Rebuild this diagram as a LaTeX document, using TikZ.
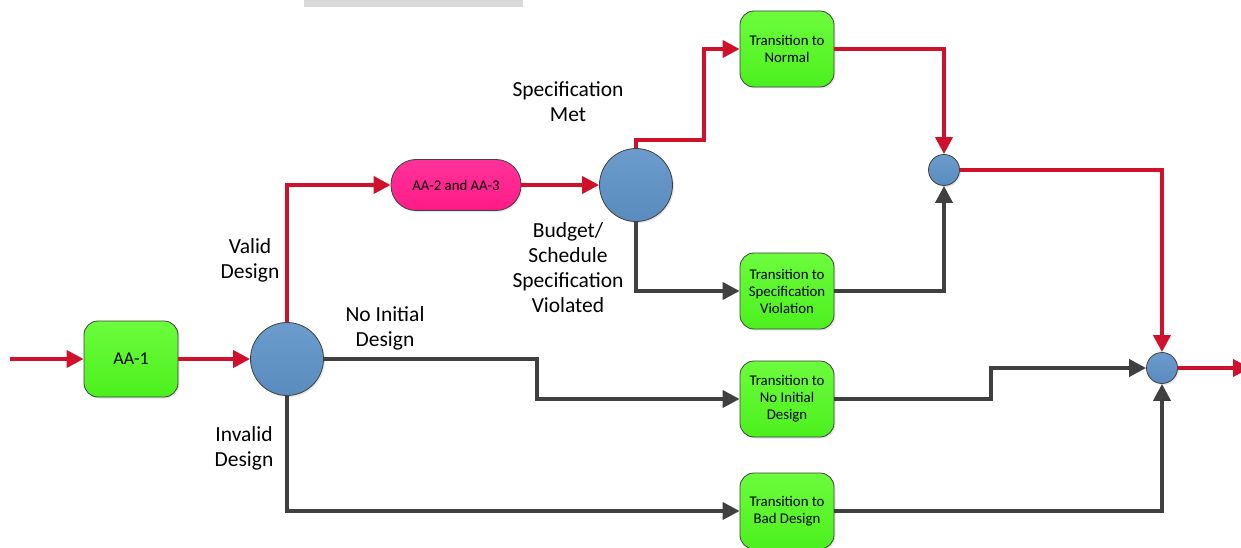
\documentclass[tikz,border=0pt]{standalone}
\usepackage{fontspec}
\setmainfont{Carlito}
\usetikzlibrary{arrows.meta,shadows}
\definecolor{boxgreen1}{HTML}{6CFC3C}
\definecolor{boxgreen2}{HTML}{4CF01E}
\definecolor{circblue1}{HTML}{6B9CCD}
\definecolor{circblue2}{HTML}{5A8BBE}
\definecolor{pink1}{HTML}{FF3399}
\definecolor{pink2}{HTML}{FF1A88}
\definecolor{edgegray}{HTML}{404040}
\definecolor{flowred}{HTML}{D0112B}
\definecolor{bargray}{HTML}{D9D9D9}
\tikzset{
  shadowed/.style={drop shadow={opacity=0.2,shadow xshift=1.5pt,shadow yshift=-1.5pt}},
  gbox/.style={draw=edgegray,line width=0.8pt,rounded corners=14pt,top color=boxgreen1,bottom color=boxgreen2,
    minimum width=94pt,minimum height=76pt,align=center,inner sep=2pt,
    font=\fontsize{14.8}{17}\selectfont,shadowed},
  pbox/.style={draw=edgegray,line width=0.8pt,rounded corners=25pt,top color=pink1,bottom color=pink2,
    minimum width=130pt,minimum height=51pt,font=\fontsize{14.8}{17}\selectfont,shadowed},
  bigcirc/.style={circle,draw=edgegray,line width=0.8pt,top color=circblue1,bottom color=circblue2,
    minimum size=73pt,inner sep=0pt,shadowed},
  smallcirc/.style={circle,draw=edgegray,line width=0.8pt,top color=circblue1,bottom color=circblue2,
    minimum size=31pt,inner sep=0pt,shadowed},
  lbl/.style={align=center,font=\fontsize{21.5}{25}\selectfont,inner sep=0pt},
  redflow/.style={draw=flowred,line width=3.8pt,-{Triangle[length=17pt,width=17pt]}},
  grayflow/.style={draw=edgegray,line width=3.8pt,-{Triangle[length=17pt,width=17pt]}},
}
\begin{document}
\begin{tikzpicture}[x=1pt,y=-1pt]
\useasboundingbox (0,0) rectangle (1241,548);
\fill[white] (0,0) rectangle (1241,548);
\fill[bargray] (304,0) rectangle (523,7);

% nodes
\node[gbox,font=\fontsize{18}{20}\selectfont] (aa1) at (131,359) {AA-1};
\node[bigcirc] (c1) at (287,359) {};
\node[pbox] (pink) at (456,185) {AA-2 and AA-3};
\node[bigcirc] (c2) at (636,185) {};
\node[gbox] (normal) at (787,49) {Transition to\\Normal};
\node[gbox] (specv) at (787,291) {Transition to\\Specification\\Violation};
\node[gbox] (noinit) at (787,399) {Transition to\\No Initial\\Design};
\node[gbox] (bad) at (787,511) {Transition to\\Bad Design};
\node[smallcirc] (c3) at (944,170) {};
\node[smallcirc] (c4) at (1162,368) {};

\coordinate (in) at (10,359);
\coordinate (out) at (1250,368);

% labels
\node[lbl] (lmet) at (568,101.5) {Specification\\Met};
\node[lbl] (lbud) at (568,268) {Budget/\\Schedule\\Specification\\Violated};
\node[lbl] (lvalid) at (250,260.5) {Valid\\Design};
\node[lbl] (lnoinit) at (385,328.5) {No Initial\\Design};
\node[lbl] (linvalid) at (244,448.5) {Invalid\\Design};

% red connectors
\draw[redflow] (in) -- (aa1);
\draw[redflow] (aa1.east) -- (c1.west);
\draw[redflow] (c1.north) |- (pink.west);
\draw[redflow] (pink.east) -- (c2.west);
\draw[redflow] (c2.north) |- (704,140) |- (normal.west);
\draw[redflow] (normal.east) -| (c3.north);
\draw[redflow] (c3.east) -| (c4.north);
\draw[redflow] (c4.east) -- (out);

% gray connectors
\draw[grayflow] (c2.south) |- (specv.west);
\draw[grayflow] (specv.east) -| (c3.south);
\draw[grayflow] (c1.east) -- (537,359) |- (noinit.west);
\draw[grayflow] (noinit.east) -- (991,399) |- (c4.west);
\draw[grayflow] (c1.south) |- (bad.west);
\draw[grayflow] (bad.east) -| (c4.south);
\end{tikzpicture}
\end{document}
